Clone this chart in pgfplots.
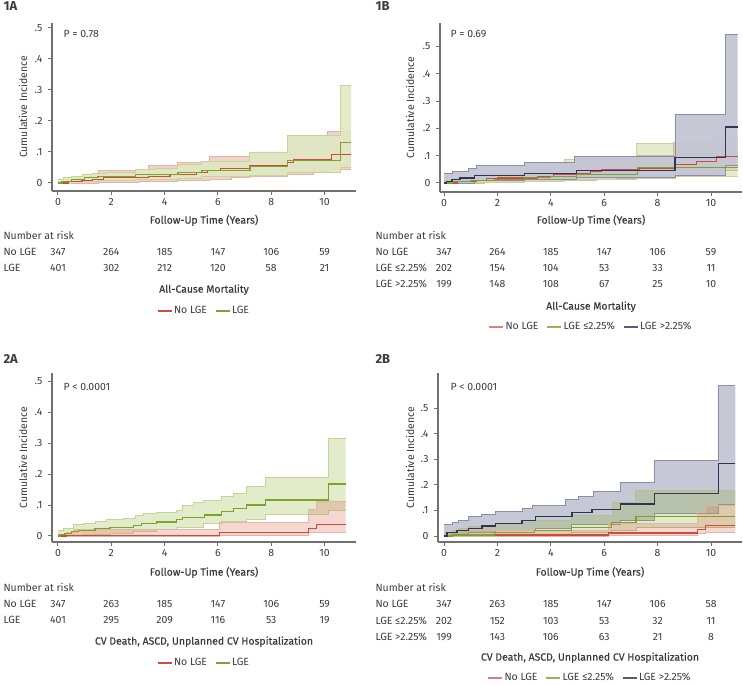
\documentclass[border=0pt]{standalone}
\usepackage{fontspec}
\setmainfont{Fira Sans}
\newfontfamily\medfont[FakeBold=0.5]{Fira Sans}
\usepackage{pgfplots}
\pgfplotsset{compat=1.18}
\definecolor{axgray}{HTML}{707070}
\definecolor{txt}{HTML}{3C3C3C}
\definecolor{redline}{HTML}{D24A3C}
\definecolor{redfill}{HTML}{D9826C}
\definecolor{redborder}{HTML}{E6B2A6}
\definecolor{greenline}{HTML}{7AA526}
\definecolor{greenfill}{HTML}{A5C05A}
\definecolor{greenlight}{HTML}{DFE8C3}
\definecolor{greenfilldk}{HTML}{8BAB33}
\definecolor{greenborder}{HTML}{C3D697}
\definecolor{navyline}{HTML}{2F3557}
\definecolor{navyfill}{HTML}{C4C5D4}
\definecolor{navyborder}{HTML}{8B8EA9}
\newcommand{\fs}{\fontsize{10.5}{12}\selectfont}
% #1 border colour, #2 fill colour, #3 opacity, #4 upper steps, #5 lower steps, #6 polygon
\newcommand{\band}[6]{%
  \addplot[fill=#2, fill opacity=#3, draw=none, forget plot] coordinates {#6};
  \addplot[const plot, draw=#1, line width=0.9bp, forget plot] coordinates {#4};
  \addplot[const plot, draw=#1, line width=0.9bp, forget plot] coordinates {#5};
}
\pgfplotsset{
  kmaxis/.style={
    scale only axis, clip=false, anchor=south west,
    axis x line*=bottom, axis y line*=left,
    axis line style={draw=axgray, line width=1.1bp},
    every tick/.style={draw=axgray, line width=1bp},
    tick align=outside, major tick length=4bp,
    xtick={0,2,4,6,8,10}, xticklabels={0,2,4,6,8,10},
    ytick={0,0.1,0.2,0.3,0.4,0.5}, yticklabels={0,.1,.2,.3,.4,.5},
    /pgf/number format/assume math mode=true,
    ticklabel style={font=\fs, text=txt},
    yticklabel style={xshift=-2bp},
    legend style={draw=none, fill=none, legend columns=-1, font=\fs, text=txt,
      at={(0.5,0)}, anchor=center,
      /tikz/every even column/.append style={column sep=6bp}},
    legend image code/.code={\draw[##1] (0bp,0bp) -- (14bp,0bp);},
  },
}
\newcommand{\lab}[3]{\node[anchor=mid, yshift=#2, text=txt, font=\fs] at ({axis cs:#1,0}|-{rel axis cs:0,0}) {#3};}
\begin{document}
\begin{tikzpicture}
\useasboundingbox (0bp,0bp) rectangle (743bp,686bp);
% ---------------- 1A
\begin{axis}[kmaxis, at={(52bp,495bp)}, width=304bp, height=168bp,
  xmin=-0.225, xmax=11.18, ymin=-0.0258, ymax=0.516,
  legend style={yshift=-120bp}, legend entries={No LGE, LGE}]
\addlegendimage{draw=redline, line width=1.1bp}
\addlegendimage{draw=greenline, line width=1.1bp}
\band{redborder}{redfill}{0.35}
{(0,0.005) (0.3,0.012) (0.7,0.02) (1.4,0.032) (1.5,0.04) (2.9,0.045) (3.4,0.058) (4.5,0.065) (5.7,0.086) (7.2,0.1) (8.6,0.15) (10.1,0.166) (11.0,0.166)}
{(0,0) (1.5,0.002) (3.0,0.005) (4.5,0.009) (5.7,0.013) (6.5,0.017) (7.2,0.022) (8.6,0.028) (9.6,0.036) (10.25,0.045) (11.0,0.045)}
{(0,0.005) (0.3,0.005) (0.3,0.012) (0.7,0.012) (0.7,0.02) (1.4,0.02) (1.4,0.032) (1.5,0.032) (1.5,0.04) (2.9,0.04) (2.9,0.045) (3.4,0.045) (3.4,0.058) (4.5,0.058) (4.5,0.065) (5.7,0.065) (5.7,0.086) (7.2,0.086) (7.2,0.1) (8.6,0.1) (8.6,0.15) (10.1,0.15) (10.1,0.166) (11.0,0.166) (11.0,0.045) (10.25,0.045) (10.25,0.036) (9.6,0.036) (9.6,0.028) (8.6,0.028) (8.6,0.022) (7.2,0.022) (7.2,0.017) (6.5,0.017) (6.5,0.013) (5.7,0.013) (5.7,0.009) (4.5,0.009) (4.5,0.005) (3.0,0.005) (3.0,0.002) (1.5,0.002) (1.5,0) (0,0)}
\band{greenborder}{greenlight}{0.88}
{(0,0.01) (0.2,0.017) (0.5,0.022) (0.9,0.027) (1.3,0.031) (1.8,0.035) (2.9,0.043) (3.6,0.046) (4.5,0.055) (4.6,0.061) (5.4,0.07) (7.2,0.1) (8.6,0.152) (10.6,0.316) (11.0,0.316)}
{(0,0) (0.5,0.004) (1.5,0.008) (2.9,0.012) (4.5,0.016) (5.4,0.02) (7.2,0.025) (8.6,0.035) (10.6,0.05) (11.0,0.05)}
{(0,0.01) (0.2,0.01) (0.2,0.017) (0.5,0.017) (0.5,0.022) (0.9,0.022) (0.9,0.027) (1.3,0.027) (1.3,0.031) (1.8,0.031) (1.8,0.035) (2.9,0.035) (2.9,0.043) (3.6,0.043) (3.6,0.046) (4.5,0.046) (4.5,0.055) (4.6,0.055) (4.6,0.061) (5.4,0.061) (5.4,0.07) (7.2,0.07) (7.2,0.1) (8.6,0.1) (8.6,0.152) (10.6,0.152) (10.6,0.316) (11.0,0.316) (11.0,0.05) (10.6,0.05) (10.6,0.035) (8.6,0.035) (8.6,0.025) (7.2,0.025) (7.2,0.02) (5.4,0.02) (5.4,0.016) (4.5,0.016) (4.5,0.012) (2.9,0.012) (2.9,0.008) (1.5,0.008) (1.5,0.004) (0.5,0.004) (0.5,0) (0,0)}
\addplot[const plot, redline, line width=1.2bp, forget plot] coordinates {(0,0) (0.4,0.004) (0.9,0.008) (1.3,0.012) (1.7,0.018) (3.4,0.022) (4.2,0.028) (5.2,0.035) (5.6,0.041) (6.1,0.048) (7.2,0.055) (8.6,0.066) (8.85,0.077) (10.25,0.093) (11.0,0.093)};
\addplot[const plot, greenline, line width=1.2bp, forget plot] coordinates {(0,0) (0.15,0.006) (0.5,0.012) (1.0,0.017) (1.5,0.021) (2.9,0.028) (4.5,0.033) (5.4,0.04) (7.2,0.053) (8.6,0.073) (10.6,0.131) (11.0,0.131)};
\node[anchor=mid west, font=\bfseries\fontsize{13}{15}\selectfont, text=txt] at ([xshift=-52bp, yshift=15bp]rel axis cs:0,1) {1A};
\node[anchor=mid west, font=\fs, text=txt] at ([xshift=8bp, yshift=-12bp]rel axis cs:0,1) {P = 0.78};
\node[rotate=90, anchor=center, font=\fs, text=txt] at ([xshift=-29bp]rel axis cs:0,0.5) {Cumulative Incidence};
\node[anchor=mid, font=\medfont\fs, text=txt] at ([yshift=-30bp]rel axis cs:0.5,0) {Follow-Up Time (Years)};
\node[anchor=mid west, font=\fs, text=txt] at ([xshift=-52bp, yshift=-46bp]rel axis cs:0,0) {Number at risk};
\node[anchor=mid west, font=\fs, text=txt] at ([xshift=-52bp, yshift=-62bp]rel axis cs:0,0) {No LGE};
\node[anchor=mid west, font=\fs, text=txt] at ([xshift=-52bp, yshift=-78bp]rel axis cs:0,0) {LGE};
\lab{0}{-62bp}{347}\lab{2}{-62bp}{264}\lab{4}{-62bp}{185}\lab{6}{-62bp}{147}\lab{8}{-62bp}{106}\lab{10}{-62bp}{59}
\lab{0}{-78bp}{401}\lab{2}{-78bp}{302}\lab{4}{-78bp}{212}\lab{6}{-78bp}{120}\lab{8}{-78bp}{58}\lab{10}{-78bp}{21}
\node[anchor=mid, font=\medfont\fs, text=txt] at ([yshift=-99bp]rel axis cs:0.5,0) {All-Cause Mortality};
\end{axis}
% ---------------- 1B
\begin{axis}[kmaxis, at={(440bp,494bp)}, width=302bp, height=169bp,
  xmin=-0.15, xmax=11.16, ymin=-0.033, ymax=0.586,
  legend style={yshift=-135bp}, legend entries={No LGE, LGE ≤2.25\%, LGE >2.25\%}]
\addlegendimage{draw=redline!70, line width=1.1bp}
\addlegendimage{draw=greenline!80, line width=1.1bp}
\addlegendimage{draw=navyline!80, line width=1.1bp}
\band{redborder}{redfill}{0.25}
{(0,0.005) (0.3,0.012) (0.7,0.02) (1.5,0.035) (2.9,0.045) (3.4,0.058) (4.5,0.065) (5.7,0.085) (7.2,0.1) (8.6,0.15) (10.1,0.166) (11.0,0.166)}
{(0,0) (1.5,0.002) (3.0,0.005) (4.5,0.009) (5.7,0.013) (6.5,0.017) (7.2,0.022) (8.6,0.028) (9.6,0.036) (10.25,0.045) (11.0,0.045)}
{(0,0.005) (0.3,0.005) (0.3,0.012) (0.7,0.012) (0.7,0.02) (1.5,0.02) (1.5,0.035) (2.9,0.035) (2.9,0.045) (3.4,0.045) (3.4,0.058) (4.5,0.058) (4.5,0.065) (5.7,0.065) (5.7,0.085) (7.2,0.085) (7.2,0.1) (8.6,0.1) (8.6,0.15) (10.1,0.15) (10.1,0.166) (11.0,0.166) (11.0,0.045) (10.25,0.045) (10.25,0.036) (9.6,0.036) (9.6,0.028) (8.6,0.028) (8.6,0.022) (7.2,0.022) (7.2,0.017) (6.5,0.017) (6.5,0.013) (5.7,0.013) (5.7,0.009) (4.5,0.009) (4.5,0.005) (3.0,0.005) (3.0,0.002) (1.5,0.002) (1.5,0) (0,0)}
\band{greenborder}{greenfill}{0.3}
{(0,0.008) (0.5,0.015) (1.0,0.022) (2.0,0.03) (3.0,0.04) (3.5,0.05) (4.5,0.087) (4.95,0.09) (7.2,0.145) (11.0,0.145)}
{(0,0) (1.0,0.002) (3.0,0.005) (4.5,0.008) (4.95,0.012) (7.2,0.015) (8.65,0.023) (11.0,0.023)}
{(0,0.008) (0.5,0.008) (0.5,0.015) (1.0,0.015) (1.0,0.022) (2.0,0.022) (2.0,0.03) (3.0,0.03) (3.0,0.04) (3.5,0.04) (3.5,0.05) (4.5,0.05) (4.5,0.087) (4.95,0.087) (4.95,0.09) (7.2,0.09) (7.2,0.145) (11.0,0.145) (11.0,0.023) (8.65,0.023) (8.65,0.015) (7.2,0.015) (7.2,0.012) (4.95,0.012) (4.95,0.008) (4.5,0.008) (4.5,0.005) (3.0,0.005) (3.0,0.002) (1.0,0.002) (1.0,0) (0,0)}
\band{navyborder}{navyfill}{0.95}
{(0,0.035) (0.3,0.041) (0.9,0.054) (1.2,0.063) (3.0,0.076) (4.9,0.096) (8.65,0.252) (10.55,0.544) (11.0,0.544)}
{(0,0) (1.15,0.008) (3.0,0.013) (4.95,0.02) (8.65,0.026) (10.55,0.066) (11.0,0.066)}
{(0,0.035) (0.3,0.035) (0.3,0.041) (0.9,0.041) (0.9,0.054) (1.2,0.054) (1.2,0.063) (3.0,0.063) (3.0,0.076) (4.9,0.076) (4.9,0.096) (8.65,0.096) (8.65,0.252) (10.55,0.252) (10.55,0.544) (11.0,0.544) (11.0,0.066) (10.55,0.066) (10.55,0.026) (8.65,0.026) (8.65,0.02) (4.95,0.02) (4.95,0.013) (3.0,0.013) (3.0,0.008) (1.15,0.008) (1.15,0) (0,0)}
\addplot[const plot, redline, line width=1.2bp, forget plot] coordinates {(0,0) (0.5,0.004) (1.2,0.01) (1.6,0.015) (2.0,0.018) (3.5,0.024) (4.1,0.03) (4.95,0.036) (5.5,0.041) (5.9,0.048) (7.3,0.052) (8.65,0.068) (9.45,0.078) (10.2,0.096) (11.0,0.096)};
\addplot[const plot, greenline, line width=1.2bp, forget plot] coordinates {(0,0) (0.3,0.004) (1.0,0.008) (1.9,0.013) (3.0,0.02) (4.0,0.025) (4.95,0.032) (7.25,0.058) (11.0,0.058)};
\addplot[const plot, navyline, line width=1.2bp, forget plot] coordinates {(0,0) (0.1,0.006) (0.3,0.012) (0.6,0.018) (1.15,0.028) (3.0,0.035) (4.95,0.045) (8.65,0.092) (10.55,0.205) (11.0,0.205)};
\node[anchor=mid west, font=\bfseries\fontsize{13}{15}\selectfont, text=txt] at ([xshift=-68bp, yshift=15bp]rel axis cs:0,1) {1B};
\node[anchor=mid west, font=\fs, text=txt] at ([xshift=7bp, yshift=-12bp]rel axis cs:0,1) {P = 0.69};
\node[rotate=90, anchor=center, font=\fs, text=txt] at ([xshift=-30bp]rel axis cs:0,0.5) {Cumulative Incidence};
\node[anchor=mid, font=\medfont\fs, text=txt] at ([yshift=-29bp]rel axis cs:0.5,0) {Follow-Up Time (Years)};
\node[anchor=mid west, font=\fs, text=txt] at ([xshift=-68bp, yshift=-45bp]rel axis cs:0,0) {Number at risk};
\node[anchor=mid west, font=\fs, text=txt] at ([xshift=-68bp, yshift=-61bp]rel axis cs:0,0) {No LGE};
\node[anchor=mid west, font=\fs, text=txt] at ([xshift=-68bp, yshift=-77bp]rel axis cs:0,0) {LGE ≤2.25\%};
\node[anchor=mid west, font=\fs, text=txt] at ([xshift=-68bp, yshift=-93bp]rel axis cs:0,0) {LGE >2.25\%};
\lab{0}{-61bp}{347}\lab{2}{-61bp}{264}\lab{4}{-61bp}{185}\lab{6}{-61bp}{147}\lab{8}{-61bp}{106}\lab{10}{-61bp}{59}
\lab{0}{-77bp}{202}\lab{2}{-77bp}{154}\lab{4}{-77bp}{104}\lab{6}{-77bp}{53}\lab{8}{-77bp}{33}\lab{10}{-77bp}{11}
\lab{0}{-93bp}{199}\lab{2}{-93bp}{148}\lab{4}{-93bp}{108}\lab{6}{-93bp}{67}\lab{8}{-93bp}{25}\lab{10}{-93bp}{10}
\node[anchor=mid, font=\medfont\fs, text=txt] at ([yshift=-115bp]rel axis cs:0.5,0) {All-Cause Mortality};
\end{axis}
% ---------------- 2A
\begin{axis}[kmaxis, at={(52bp,144bp)}, width=304bp, height=169bp,
  xmin=-0.225, xmax=11.18, ymin=-0.0194, ymax=0.526,
  legend style={yshift=-121bp}, legend entries={No LGE, LGE}]
\addlegendimage{draw=redline, line width=1.1bp}
\addlegendimage{draw=greenline, line width=1.1bp}
\band{greenborder}{greenfill}{0.32}
{(0,0.019) (0.2,0.025) (0.58,0.038) (0.95,0.042) (1.39,0.046) (1.83,0.052) (2.45,0.057) (2.89,0.066) (3.2,0.073) (3.7,0.076) (4.45,0.082) (4.68,0.098) (5.08,0.108) (5.45,0.116) (6.14,0.126) (6.58,0.138) (7.08,0.159) (7.79,0.188) (10.16,0.316) (10.79,0.316)}
{(0,0) (0.95,0.004) (1.95,0.008) (2.83,0.016) (3.7,0.021) (4.45,0.028) (5.45,0.04) (6.14,0.046) (7.08,0.052) (7.79,0.07) (10.16,0.083) (10.79,0.083)}
{(0,0.019) (0.2,0.019) (0.2,0.025) (0.58,0.025) (0.58,0.038) (0.95,0.038) (0.95,0.042) (1.39,0.042) (1.39,0.046) (1.83,0.046) (1.83,0.052) (2.45,0.052) (2.45,0.057) (2.89,0.057) (2.89,0.066) (3.2,0.066) (3.2,0.073) (3.7,0.073) (3.7,0.076) (4.45,0.076) (4.45,0.082) (4.68,0.082) (4.68,0.098) (5.08,0.098) (5.08,0.108) (5.45,0.108) (5.45,0.116) (6.14,0.116) (6.14,0.126) (6.58,0.126) (6.58,0.138) (7.08,0.138) (7.08,0.159) (7.79,0.159) (7.79,0.188) (10.16,0.188) (10.16,0.316) (10.79,0.316) (10.79,0.083) (10.16,0.083) (10.16,0.07) (7.79,0.07) (7.79,0.052) (7.08,0.052) (7.08,0.046) (6.14,0.046) (6.14,0.04) (5.45,0.04) (5.45,0.028) (4.45,0.028) (4.45,0.021) (3.7,0.021) (3.7,0.016) (2.83,0.016) (2.83,0.008) (1.95,0.008) (1.95,0.004) (0.95,0.004) (0.95,0) (0,0)}
\band{redborder}{redfill}{0.32}
{(0,0.005) (0.3,0.012) (0.6,0.021) (6.05,0.045) (9.4,0.087) (9.7,0.113) (10.79,0.113)}
{(0,0) (6.05,0.002) (9.4,0.011) (9.7,0.013) (10.79,0.013)}
{(0,0.005) (0.3,0.005) (0.3,0.012) (0.6,0.012) (0.6,0.021) (6.05,0.021) (6.05,0.045) (9.4,0.045) (9.4,0.087) (9.7,0.087) (9.7,0.113) (10.79,0.113) (10.79,0.013) (9.7,0.013) (9.7,0.011) (9.4,0.011) (9.4,0.002) (6.05,0.002) (6.05,0) (0,0)}
\addplot[const plot, redline, line width=1.2bp, forget plot] coordinates {(0,0) (0.3,0.002) (6.05,0.01) (9.4,0.024) (9.7,0.038) (10.79,0.038)};
\addplot[const plot, greenline, line width=1.2bp, forget plot] coordinates {(0,0) (0.075,0.005) (0.26,0.009) (0.51,0.014) (0.76,0.019) (1.39,0.023) (1.95,0.027) (2.83,0.035) (3.14,0.041) (3.7,0.045) (4.45,0.052) (4.68,0.06) (5.51,0.068) (6.14,0.078) (6.58,0.089) (7.08,0.1) (7.79,0.116) (10.16,0.168) (10.79,0.168)};
\node[anchor=mid west, font=\bfseries\fontsize{13}{15}\selectfont, text=txt] at ([xshift=-52bp, yshift=12bp]rel axis cs:0,1) {2A};
\node[anchor=mid west, font=\fs, text=txt] at ([xshift=8bp, yshift=-15bp]rel axis cs:0,1) {P < 0.0001};
\node[rotate=90, anchor=center, font=\fs, text=txt] at ([xshift=-29bp]rel axis cs:0,0.5) {Cumulative Incidence};
\node[anchor=mid, font=\medfont\fs, text=txt] at ([yshift=-31bp]rel axis cs:0.5,0) {Follow-Up Time (Years)};
\node[anchor=mid west, font=\fs, text=txt] at ([xshift=-52bp, yshift=-47bp]rel axis cs:0,0) {Number at risk};
\node[anchor=mid west, font=\fs, text=txt] at ([xshift=-52bp, yshift=-63bp]rel axis cs:0,0) {No LGE};
\node[anchor=mid west, font=\fs, text=txt] at ([xshift=-52bp, yshift=-79bp]rel axis cs:0,0) {LGE};
\lab{0}{-63bp}{347}\lab{2}{-63bp}{263}\lab{4}{-63bp}{185}\lab{6}{-63bp}{147}\lab{8}{-63bp}{106}\lab{10}{-63bp}{59}
\lab{0}{-79bp}{401}\lab{2}{-79bp}{295}\lab{4}{-79bp}{209}\lab{6}{-79bp}{116}\lab{8}{-79bp}{53}\lab{10}{-79bp}{19}
\node[anchor=mid, font=\medfont\fs, text=txt] at ([yshift=-100bp]rel axis cs:0.5,0) {CV Death, ASCD, Unplanned CV Hospitalization};
\end{axis}
% ---------------- 2B
\begin{axis}[kmaxis, at={(438bp,144bp)}, width=304bp, height=169bp,
  xmin=-0.225, xmax=11.16, ymin=-0.0234, ymax=0.637,
  legend style={yshift=-136bp}, legend entries={No LGE, LGE ≤2.25\%, LGE >2.25\%}]
\addlegendimage{draw=redline!70, line width=1.1bp}
\addlegendimage{draw=greenline!80, line width=1.1bp}
\addlegendimage{draw=navyline!80, line width=1.1bp}
\band{navyborder}{navyfill}{0.95}
{(0,0.046) (0.3,0.052) (0.55,0.062) (0.92,0.075) (1.42,0.086) (1.92,0.095) (2.92,0.108) (3.3,0.121) (4.55,0.143) (5.05,0.155) (5.6,0.173) (6.6,0.208) (7.88,0.294) (10.26,0.587) (10.91,0.587)}
{(0,0) (0.3,0.005) (0.92,0.013) (1.92,0.02) (3.42,0.03) (4.79,0.046) (6.6,0.0625) (7.88,0.088) (10.26,0.124) (10.91,0.124)}
{(0,0.046) (0.3,0.046) (0.3,0.052) (0.55,0.052) (0.55,0.062) (0.92,0.062) (0.92,0.075) (1.42,0.075) (1.42,0.086) (1.92,0.086) (1.92,0.095) (2.92,0.095) (2.92,0.108) (3.3,0.108) (3.3,0.121) (4.55,0.121) (4.55,0.143) (5.05,0.143) (5.05,0.155) (5.6,0.155) (5.6,0.173) (6.6,0.173) (6.6,0.208) (7.88,0.208) (7.88,0.294) (10.26,0.294) (10.26,0.587) (10.91,0.587) (10.91,0.124) (10.26,0.124) (10.26,0.088) (7.88,0.088) (7.88,0.0625) (6.6,0.0625) (6.6,0.046) (4.79,0.046) (4.79,0.03) (3.42,0.03) (3.42,0.02) (1.92,0.02) (1.92,0.013) (0.92,0.013) (0.92,0.005) (0.3,0.005) (0.3,0) (0,0)}
\band{greenborder!90!black}{greenfilldk}{0.25}
{(0,0.01) (0.3,0.02) (0.55,0.03) (0.92,0.036) (1.92,0.049) (2.92,0.0625) (4.79,0.079) (6.3,0.13) (7.17,0.177) (10.91,0.177)}
{(0,0) (1.9,0.003) (3.4,0.007) (4.76,0.013) (6.26,0.02) (7.19,0.033) (10.91,0.033)}
{(0,0.01) (0.3,0.01) (0.3,0.02) (0.55,0.02) (0.55,0.03) (0.92,0.03) (0.92,0.036) (1.92,0.036) (1.92,0.049) (2.92,0.049) (2.92,0.0625) (4.79,0.0625) (4.79,0.079) (6.3,0.079) (6.3,0.13) (7.17,0.13) (7.17,0.177) (10.91,0.177) (10.91,0.033) (7.19,0.033) (7.19,0.02) (6.26,0.02) (6.26,0.013) (4.76,0.013) (4.76,0.007) (3.4,0.007) (3.4,0.003) (1.9,0.003) (1.9,0) (0,0)}
\band{redborder}{redfill}{0.3}
{(0,0.005) (0.3,0.016) (0.6,0.022) (6.17,0.048) (9.5,0.092) (9.8,0.118) (10.91,0.118)}
{(0,0) (6.17,0.002) (9.5,0.011) (9.8,0.014) (10.91,0.014)}
{(0,0.005) (0.3,0.005) (0.3,0.016) (0.6,0.016) (0.6,0.022) (6.17,0.022) (6.17,0.048) (9.5,0.048) (9.5,0.092) (9.8,0.092) (9.8,0.118) (10.91,0.118) (10.91,0.014) (9.8,0.014) (9.8,0.011) (9.5,0.011) (9.5,0.002) (6.17,0.002) (6.17,0) (0,0)}
\addplot[const plot, redline, line width=1.2bp, forget plot] coordinates {(0,0) (0.3,0.004) (6.17,0.012) (9.5,0.027) (9.8,0.04) (10.91,0.04)};
\addplot[const plot, greenline, line width=1.2bp, forget plot] coordinates {(0,0) (0.3,0.004) (1.9,0.013) (3.4,0.021) (4.76,0.033) (6.26,0.053) (7.19,0.075) (10.91,0.075)};
\addplot[const plot, navyline, line width=1.2bp, forget plot] coordinates {(0,0) (0.11,0.013) (0.49,0.02) (0.92,0.03) (1.42,0.039) (1.92,0.049) (2.92,0.06) (3.42,0.075) (4.79,0.091) (5.54,0.104) (6.6,0.125) (7.88,0.167) (10.29,0.284) (10.91,0.284)};
\node[anchor=mid west, font=\bfseries\fontsize{13}{15}\selectfont, text=txt] at ([xshift=-66bp, yshift=12bp]rel axis cs:0,1) {2B};
\node[anchor=mid west, font=\fs, text=txt] at ([xshift=9bp, yshift=-15bp]rel axis cs:0,1) {P < 0.0001};
\node[rotate=90, anchor=center, font=\fs, text=txt] at ([xshift=-28bp]rel axis cs:0,0.5) {Cumulative Incidence};
\node[anchor=mid, font=\medfont\fs, text=txt] at ([yshift=-31bp]rel axis cs:0.5,0) {Follow-Up Time (Years)};
\node[anchor=mid west, font=\fs, text=txt] at ([xshift=-66bp, yshift=-47bp]rel axis cs:0,0) {Number at risk};
\node[anchor=mid west, font=\fs, text=txt] at ([xshift=-66bp, yshift=-63bp]rel axis cs:0,0) {No LGE};
\node[anchor=mid west, font=\fs, text=txt] at ([xshift=-66bp, yshift=-80bp]rel axis cs:0,0) {LGE ≤2.25\%};
\node[anchor=mid west, font=\fs, text=txt] at ([xshift=-66bp, yshift=-96bp]rel axis cs:0,0) {LGE >2.25\%};
\lab{0}{-63bp}{347}\lab{2}{-63bp}{263}\lab{4}{-63bp}{185}\lab{6}{-63bp}{147}\lab{8}{-63bp}{106}\lab{10}{-63bp}{58}
\lab{0}{-80bp}{202}\lab{2}{-80bp}{152}\lab{4}{-80bp}{103}\lab{6}{-80bp}{53}\lab{8}{-80bp}{32}\lab{10}{-80bp}{11}
\lab{0}{-96bp}{199}\lab{2}{-96bp}{143}\lab{4}{-96bp}{106}\lab{6}{-96bp}{63}\lab{8}{-96bp}{21}\lab{10}{-96bp}{8}
\node[anchor=mid, font=\medfont\fs, text=txt] at ([yshift=-116bp]rel axis cs:0.5,0) {CV Death, ASCD, Unplanned CV Hospitalization};
\end{axis}
\end{tikzpicture}
\end{document}
